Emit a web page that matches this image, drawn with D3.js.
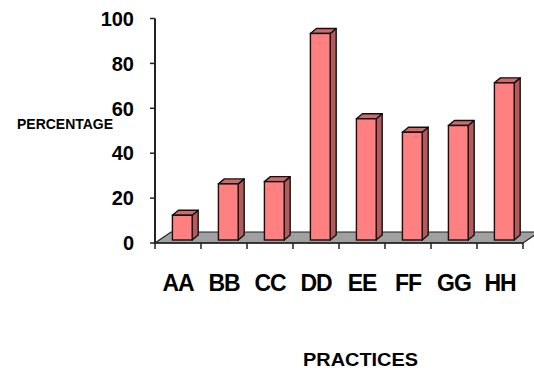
<!DOCTYPE html>
<html>
<head>
<meta charset="utf-8">
<script src="https://cdn.jsdelivr.net/npm/d3@7"></script>
<style>
	body { margin: 0; background: #fff; }
	svg { display: block; font-family: 'Liberation Sans', Arial, sans-serif; font-weight: bold; }
</style>
</head>
<body>
<div id="chart"></div>
<script>
const categories = ['AA', 'BB', 'CC', 'DD', 'EE', 'FF', 'GG', 'HH']
const percentages = [11, 25, 26, 92, 54, 48, 51, 70]
const yTicks = [0, 20, 40, 60, 80, 100]

const width = 534, height = 376
const depth = { x: 16, y: -11 }     // floor depth
const barDepth = { x: 6, y: -5 }    // bar side depth
const barShift = { x: 4.3, y: -3 }  // bars sit a bit behind the front edge

const svg = d3.select('#chart').append('svg')
	.attr('width', width).attr('height', height)

const x = d3.scaleBand().domain(categories).range([155, 523])
const y = d3.scaleLinear().domain([0, 100]).range([243, 18.5])

// floor
const x0 = x.range()[0], x1 = x.range()[1], y0 = y(0)
svg.append('polygon')
	.attr('points', [[x0, y0], [x1, y0], [x1 + depth.x, y0 + depth.y], [x0 + depth.x, y0 + depth.y]].join(' '))
	.style('fill', '#a0a0a0')
	.style('stroke', '#222')
	.style('stroke-width', 1.2)

// bars
const bw = x.bandwidth() * 0.43
const bars = svg.append('g').selectAll('g')
	.data(categories.map((c, i) => ({ c: c, v: percentages[i] })))
	.enter()
	.append('g')

const barLeft = d => x(d.c) + (x.bandwidth() - bw) / 2 + barShift.x
const barBot = () => y(0) + barShift.y
const barTop = d => y(d.v) + barShift.y

bars.append('polygon')
	.attr('points', d => [[barLeft(d) + bw, barTop(d)], [barLeft(d) + bw + barDepth.x, barTop(d) + barDepth.y],
		[barLeft(d) + bw + barDepth.x, barBot() + barDepth.y], [barLeft(d) + bw, barBot()]].join(' '))
	.style('fill', '#b45a5a')
	.style('stroke', '#111').style('stroke-width', 1.4).style('stroke-linejoin', 'round')

bars.append('polygon')
	.attr('points', d => [[barLeft(d), barTop(d)], [barLeft(d) + barDepth.x, barTop(d) + barDepth.y],
		[barLeft(d) + bw + barDepth.x, barTop(d) + barDepth.y], [barLeft(d) + bw, barTop(d)]].join(' '))
	.style('fill', '#d06a6a')
	.style('stroke', '#111').style('stroke-width', 1.4).style('stroke-linejoin', 'round')

bars.append('rect')
	.attr('x', barLeft).attr('y', barTop)
	.attr('width', bw).attr('height', d => barBot() - barTop(d))
	.style('fill', '#ff8080')
	.style('stroke', '#111').style('stroke-width', 1.4)

// y axis
const yAxis = svg.append('g')
yAxis.append('line')
	.attr('x1', x0).attr('x2', x0).attr('y1', y(100)).attr('y2', y(0))
	.style('stroke', '#222').style('stroke-width', 2)
yAxis.selectAll('line.tick')
	.data(yTicks)
	.enter()
	.append('line')
	.attr('class', 'tick')
	.attr('x1', x0 - 5).attr('x2', x0).attr('y1', d => y(d)).attr('y2', d => y(d))
	.style('stroke', '#222').style('stroke-width', 1.5)
yAxis.selectAll('text')
	.data(yTicks)
	.enter()
	.append('text')
	.attr('x', 134).attr('y', d => y(d))
	.attr('dy', '0.36em')
	.attr('text-anchor', 'end')
	.style('font-size', '20px')
	.text(d => d)

// x axis
const xAxis = svg.append('g')
xAxis.append('line')
	.attr('x1', x0).attr('x2', x1).attr('y1', y0).attr('y2', y0)
	.style('stroke', '#222').style('stroke-width', 1.5)
xAxis.selectAll('line.tick')
	.data(categories.concat(['end']))
	.enter()
	.append('line')
	.attr('class', 'tick')
	.attr('x1', (d, i) => x0 + i * x.bandwidth()).attr('x2', (d, i) => x0 + i * x.bandwidth())
	.attr('y1', y0).attr('y2', y0 + 6)
	.style('stroke', '#222').style('stroke-width', 1.5)
xAxis.selectAll('text')
	.data(categories)
	.enter()
	.append('text')
	.attr('x', d => x(d) + x.bandwidth() / 2)
	.attr('y', 291)
	.attr('text-anchor', 'middle')
	.style('font-size', '23px')
	.style('letter-spacing', '-1px')
	.text(d => d)

// axis titles
svg.append('text')
	.attr('x', 17).attr('y', 129)
	.attr('textLength', 96).attr('lengthAdjust', 'spacingAndGlyphs')
	.style('font-size', '15px')
	.text('PERCENTAGE')

svg.append('text')
	.attr('x', 303).attr('y', 366)
	.attr('textLength', 115).attr('lengthAdjust', 'spacingAndGlyphs')
	.style('font-size', '19px')
	.text('PRACTICES')
</script>
</body>
</html>
